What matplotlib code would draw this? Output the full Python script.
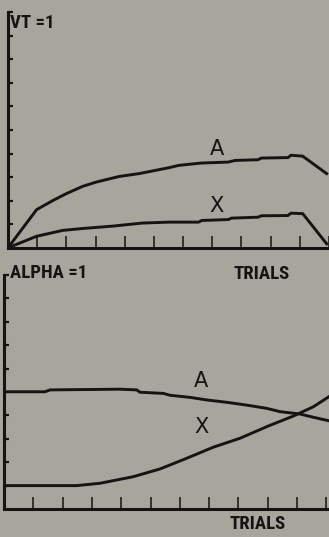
#!/usr/bin/env python3
import matplotlib
matplotlib.use("Agg")
import matplotlib.pyplot as plt

# top panel (VT = 1): associative strength of A and X over trials
top_trials_a = [0, 0.98, 1.54, 2.0, 2.56, 3.02, 3.81, 4.49, 5.06, 5.51, 5.85, 6.64,
                7.55, 7.78, 8.57, 8.68, 9.59, 9.70, 10.1, 10.92]
top_a = [0, 1.62, 2.01, 2.30, 2.61, 2.79, 3.03, 3.15, 3.29, 3.40, 3.50, 3.60,
         3.64, 3.71, 3.74, 3.81, 3.83, 3.93, 3.89, 3.15]
top_trials_x = [0, 0.98, 1.88, 2.56, 3.58, 4.6, 5.51, 6.53, 6.64, 7.55, 7.66, 8.57,
                8.68, 9.59, 9.70, 10.1, 10.92]
top_x = [0, 0.49, 0.74, 0.82, 0.92, 1.05, 1.09, 1.09, 1.16, 1.20, 1.26, 1.30,
         1.36, 1.37, 1.47, 1.45, 0.17]

# bottom panel (ALPHA = 1)
bot_trials_a = [0, 1.4, 1.57, 3.96, 4.53, 4.64, 5.44, 5.67, 6.35, 6.92, 7.60, 8.28,
                8.97, 9.42, 10.10, 10.56, 11.09]
bot_a = [5.01, 5.01, 5.09, 5.12, 5.09, 4.99, 4.94, 4.86, 4.77, 4.66, 4.56, 4.44,
         4.30, 4.16, 4.06, 3.92, 3.77]
bot_trials_x = [0, 2.48, 3.28, 4.41, 5.32, 6.24, 7.14, 8.05, 8.97, 9.87, 10.56, 11.09]
bot_x = [1.0, 1.0, 1.10, 1.38, 1.71, 2.17, 2.64, 3.02, 3.52, 3.97, 4.37, 4.80]

x_ticks = list(range(1, 12))
y_ticks = list(range(1, 11))

W, H = 329, 537
BG = "#a8a59d"
INK = "#141414"
# narrow faces first, whichever one is installed gets used
label_font = ["Liberation Sans Narrow", "Roboto Condensed", "DejaVu Sans Condensed",
              "Noto Sans Condensed", "Open Sans Condensed", "DejaVu Sans"]

fig = plt.figure(figsize=(W / 100, H / 100), dpi=100, facecolor=BG)


def make_axes(left_px, base_px, px_per_x, top_px):
    ax = fig.add_axes([left_px / W, 1 - base_px / H,
                       (W - left_px) / W, (base_px - top_px) / H])
    ax.set_facecolor(BG)
    ax.set_xlim(0, (W - left_px) / px_per_x)
    ax.set_ylim(0, 10)
    for s in ("top", "right"):
        ax.spines[s].set_visible(False)
    for s in ("left", "bottom"):
        ax.spines[s].set_linewidth(2.2)
        ax.spines[s].set_color(INK)
    ax.set_xticks(x_ticks)
    ax.set_yticks(y_ticks)
    ax.tick_params(axis="x", direction="in", length=8.5, width=1.1, color=INK,
                   labelbottom=False)
    ax.tick_params(axis="y", direction="in", length=3.8, width=1.6, color=INK,
                   labelleft=False)
    return ax


ax1 = make_axes(8, 247.8, 29.4, 12.3)
ax1.plot(top_trials_a, top_a, color=INK, lw=2.1, solid_joinstyle="miter")
ax1.plot(top_trials_x, top_x, color=INK, lw=2.1, solid_joinstyle="miter")
ax1.text(7.15, 4.18, "A", fontsize=15, color=INK, ha="center", va="center")
ax1.text(7.15, 1.76, "X", fontsize=15, color=INK, ha="center", va="center")

ax2 = make_axes(4, 509, 29.3, 275)
ax2.plot(bot_trials_a, bot_a, color=INK, lw=2.1, solid_joinstyle="miter")
ax2.plot(bot_trials_x, bot_x, color=INK, lw=2.1, solid_joinstyle="miter")
ax2.text(6.73, 5.48, "A", fontsize=15, color=INK, ha="center", va="center")
ax2.text(6.73, 3.52, "X", fontsize=15, color=INK, ha="center", va="center")

txt = dict(family=label_font, fontweight="bold", fontstretch="condensed",
           fontsize=13.5, color=INK, va="center")
fig.text(10 / W, 1 - 22.5 / H, "VT =1", ha="left", **txt)
fig.text(10 / W, 1 - 273.5 / H, "ALPHA =1", ha="left", **txt)
fig.text(262 / W, 1 - 274 / H, "TRIALS", ha="center", **txt)
fig.text(258 / W, 1 - 524 / H, "TRIALS", ha="center", **txt)

fig.savefig("out.png", dpi=100, facecolor=BG)
